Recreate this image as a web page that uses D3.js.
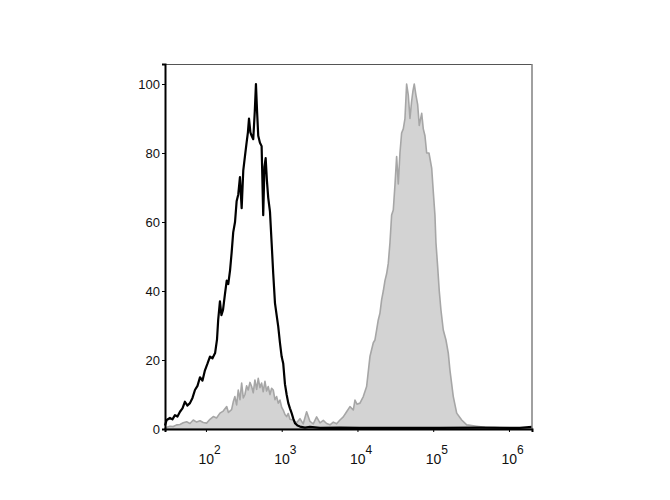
<!DOCTYPE html>
<html>
<head>
<meta charset="utf-8">
<script src="https://cdn.jsdelivr.net/npm/d3@7"></script>
<style>
  body { margin: 0; background: #fff; }
  svg text { font-family: "Liberation Sans", Arial, sans-serif; fill: #111; }
</style>
</head>
<body>
<div id="chart"></div>
<script>
// isotype control (black outline), fluorescence intensity vs % of max
const isoX = [28.8, 30.3, 33.5, 36.1, 39.0, 42.1, 45.4, 49.0, 52.8, 57.0, 61.5, 66.4, 71.6, 77.3,
  83.4, 89.9, 97.0, 105, 113, 122, 132, 140, 145, 153, 160, 168, 178, 188, 197, 208, 218,
  229, 242, 254, 267, 281, 296, 311, 327, 344, 358, 370, 386, 401, 421, 441, 457, 473, 490,
  516, 543, 570, 592, 614, 638, 664, 700, 736, 773, 815, 857, 900, 948, 998, 1047, 1104,
  1161, 1222, 1285, 1352, 1422, 1496, 1614, 1742, 2028, 2360, 3199, 5875, 10790, 36390,
  122700, 414000, 1396000, 2014000];
const isoY = [1.0, 2.6, 3.2, 2.8, 4.0, 3.6, 5.0, 6.0, 7.9, 6.8, 7.5, 9.0, 11.3, 12.5,
  15, 14, 17, 19, 21, 20.5, 22, 26, 31.6, 37, 33, 34.5, 39, 43, 42, 46, 51,
  57, 60, 66, 68, 73, 64, 75, 79, 83, 86, 90, 86, 85, 84, 92, 100, 92, 85,
  83, 82, 62, 76, 78.5, 72, 67, 63, 54, 45, 36.5, 33, 29.7, 25, 21, 19, 13,
  10, 7.5, 6, 4.6, 3, 1.7, 1, 0.7, 0.4, 0.6, 0.3, 0.4, 0.3, 0.3,
  0.3, 0.4, 0.3, 0.6];

// stained sample (grey filled)
const stainX = [28.8, 30.5, 33.5, 37.0, 41.0, 45.4, 50.1, 55.6, 61.5, 68.0, 75.4, 83.4, 92.1,
  102, 113, 125, 138, 153, 169, 188, 198, 218, 229, 241, 254, 267, 281, 296, 311, 327,
  344, 361, 381, 401, 421, 443, 467, 490, 516, 543, 570, 601, 632, 664, 700, 736, 773,
  815, 857, 900, 948, 998, 1047, 1104, 1161, 1220, 1285, 1420, 1574, 1742, 1923, 2133,
  2360, 2608, 2891, 3199, 3540, 3917, 4335, 4797, 5309, 5875, 6501, 7194, 7962, 8810,
  9268, 9840, 10790, 11940, 13210, 14620, 16180, 17020, 17910, 18820, 19820, 20840,
  21930, 23070, 24270, 25510, 26850, 28250, 29720, 31260, 32890, 34600, 36390, 38280,
  40270, 42360, 44570, 46880, 49320, 51880, 54040, 56230, 59160, 62340, 65460, 70470,
  73960, 77800, 82000, 87900, 95500, 100200, 105400, 108700, 114500, 120200, 126500,
  135800, 147300, 158100, 166400, 184100, 204200, 237700, 276700, 322300, 375000,
  482000, 653000, 885000, 1396000, 2014000];
const stainY = [0.3, 0.5, 0.8, 0.7, 1.2, 1.3, 1.8, 2.1, 1.6, 2.6, 2.0, 2.4, 1.9,
  1.7, 2.8, 3.6, 3.2, 4.6, 5.2, 6.5, 4.8, 5.6, 7.8, 9.4, 7.0, 11.3, 8.5, 13.3, 9.0, 10,
  12.5, 11.3, 13.5, 12.3, 10.5, 14.2, 11.5, 14.7, 12, 13.3, 10.8, 13.8, 11, 12.3, 10, 11.8, 11.3,
  8.5, 9.4, 7.5, 8.4, 6.3, 5.5, 4.2, 3.6, 4.5, 2.8, 2.6, 1.8, 3.0, 1.5, 5.0,
  2.2, 1.5, 3.5, 1.8, 2.5, 1.6, 1.2, 2.0, 1.5, 2.6, 3.5, 5.0, 6.5, 5.5,
  8.4, 7.2, 7.5, 9.4, 12.3, 21, 25, 25.8, 28.7, 31.6, 33.6, 37.4,
  40, 43, 45, 48, 54, 62, 63.5, 70.7, 79, 71, 80, 85.8,
  87, 90, 100, 96.8, 90, 95, 98, 100, 96.8, 94, 88, 91.5,
  87, 85, 80, 80, 75.6, 68.8, 62, 54, 47, 40, 34.5,
  28.7, 25.8, 22, 17, 9.4, 4.6, 2.6, 1.2, 1.0, 0.8,
  0.5, 0.4, 0.3, 0.2, 0.2];

const yTicks = [0, 20, 40, 60, 80, 100];
const xTickExps = [2, 3, 4, 5, 6];

const width = 670, height = 500;
const plotL = 165, plotR = 532, plotT = 64, plotB = 429;

const x = d3.scaleLog().domain([28.8, 2.014e6]).range([plotL, plotR]);
const y = d3.scaleLinear().domain([0, 105.8]).range([plotB, plotT]);

const svg = d3.select("#chart").append("svg")
  .attr("width", width)
  .attr("height", height);

const stain = stainX.map((v, i) => [v, stainY[i]]);
const iso = isoX.map((v, i) => [v, isoY[i]]);

svg.append("path")
  .datum(stain)
  .attr("fill", "#d3d3d3")
  .attr("stroke", "#a6a6a6")
  .attr("stroke-width", 1.6)
  .attr("stroke-linejoin", "round")
  .attr("d", d3.area().x((d) => x(d[0])).y0(y(0)).y1((d) => y(d[1])));

svg.append("path")
  .datum(iso)
  .attr("fill", "none")
  .attr("stroke", "#000")
  .attr("stroke-width", 2.2)
  .attr("stroke-linejoin", "round")
  .attr("d", d3.line().x((d) => x(d[0])).y((d) => y(d[1])));

// frame: top and right thin grey
svg.append("line")
  .attr("x1", plotL).attr("x2", plotR).attr("y1", plotT + 0.5).attr("y2", plotT + 0.5)
  .attr("stroke", "#555").attr("stroke-width", 1);
svg.append("line")
  .attr("x1", plotR).attr("x2", plotR).attr("y1", plotT).attr("y2", plotB)
  .attr("stroke", "#808080").attr("stroke-width", 1.5);

// y axis
const yAxis = svg.append("g")
  .attr("transform", `translate(${plotL},0)`)
  .call(d3.axisLeft(y).tickValues(yTicks).tickSize(3).tickPadding(2));
yAxis.select(".domain").attr("stroke", "#000").attr("stroke-width", 2);
yAxis.selectAll(".tick line").attr("stroke", "#000");
yAxis.selectAll(".tick text")
  .attr("font-size", 13)
  .attr("dy", "0.35em")
  .style("font-family", '"Liberation Sans", Arial, sans-serif');

// x axis with 10^n labels
const xAxis = svg.append("g")
  .attr("transform", `translate(0,${plotB})`)
  .call(d3.axisBottom(x).tickValues(xTickExps.map((e) => Math.pow(10, e))).tickSize(3).tickFormat(""));
xAxis.select(".domain").attr("stroke", "#000").attr("stroke-width", 2);
xAxis.selectAll(".tick line").attr("stroke", "#000");

xAxis.selectAll(".tick").each(function (d, i) {
  const t = d3.select(this).append("text")
    .attr("y", 35)
    .attr("x", -8)
    .attr("text-anchor", "start")
    .attr("font-size", 14)
    .style("fill", "#111");
  t.append("tspan").text("10");
  t.append("tspan").attr("dy", -10).attr("font-size", 12).text(xTickExps[i]);
});
</script>
</body>
</html>
